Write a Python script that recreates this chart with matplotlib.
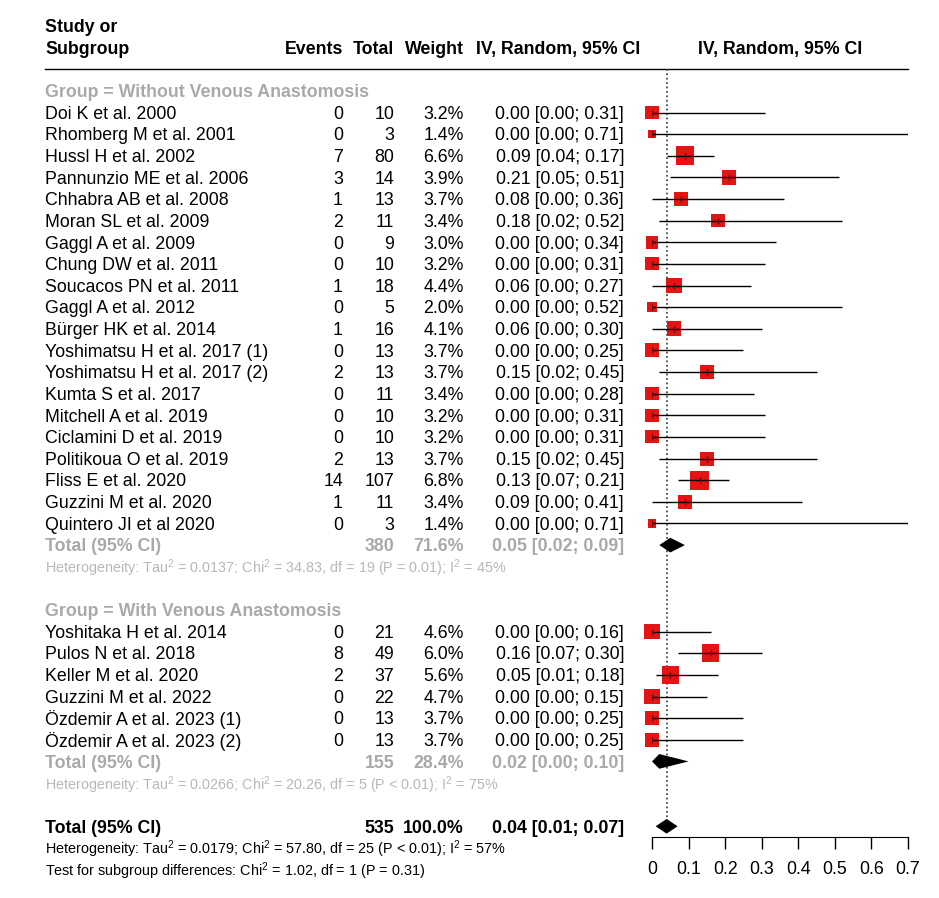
import numpy as np
import matplotlib.pyplot as plt

plt.rcParams['font.family'] = ['Liberation Sans', 'DejaVu Sans']
plt.rcParams['mathtext.fontset'] = 'custom'
plt.rcParams['mathtext.rm'] = 'Liberation Sans'
plt.rcParams['mathtext.it'] = 'Liberation Sans:italic'
plt.rcParams['mathtext.bf'] = 'Liberation Sans:bold'
FS = 12.8
FS_NOTE = 10.4  # the footnote lines are set narrower in the original

# group 1: without venous anastomosis
studies1 = ['Doi K et al. 2000', 'Rhomberg M et al. 2001', 'Hussl H et al. 2002',
            'Pannunzio ME et al. 2006', 'Chhabra AB et al. 2008', 'Moran SL et al. 2009',
            'Gaggl A et al. 2009', 'Chung DW et al. 2011', 'Soucacos PN et al. 2011',
            'Gaggl A et al. 2012', 'Bürger HK et al. 2014', 'Yoshimatsu H et al. 2017 (1)',
            'Yoshimatsu H et al. 2017 (2)', 'Kumta S et al. 2017', 'Mitchell A et al. 2019',
            'Ciclamini D et al. 2019', 'Politikoua O et al. 2019', 'Fliss E et al. 2020',
            'Guzzini M et al. 2020', 'Quintero JI et al 2020']
events1 = [0, 0, 7, 3, 1, 2, 0, 0, 1, 0, 1, 0, 2, 0, 0, 0, 2, 14, 1, 0]
totals1 = [10, 3, 80, 14, 13, 11, 9, 10, 18, 5, 16, 13, 13, 11, 10, 10, 13, 107, 11, 3]
weights1 = [3.2, 1.4, 6.6, 3.9, 3.7, 3.4, 3.0, 3.2, 4.4, 2.0, 4.1, 3.7, 3.7, 3.4, 3.2,
            3.2, 3.7, 6.8, 3.4, 1.4]
est1 = [0.00, 0.00, 0.09, 0.21, 0.08, 0.18, 0.00, 0.00, 0.06, 0.00, 0.06, 0.00, 0.15,
        0.00, 0.00, 0.00, 0.15, 0.13, 0.09, 0.00]
lo1 = [0.00, 0.00, 0.04, 0.05, 0.00, 0.02, 0.00, 0.00, 0.00, 0.00, 0.00, 0.00, 0.02,
       0.00, 0.00, 0.00, 0.02, 0.07, 0.00, 0.00]
hi1 = [0.31, 0.71, 0.17, 0.51, 0.36, 0.52, 0.34, 0.31, 0.27, 0.52, 0.30, 0.25, 0.45,
       0.28, 0.31, 0.31, 0.45, 0.21, 0.41, 0.71]

# group 2: with venous anastomosis
studies2 = ['Yoshitaka H et al. 2014', 'Pulos N et al. 2018', 'Keller M et al. 2020',
            'Guzzini M et al. 2022', 'Özdemir A et al. 2023 (1)', 'Özdemir A et al. 2023 (2)']
events2 = [0, 8, 2, 0, 0, 0]
totals2 = [21, 49, 37, 22, 13, 13]
weights2 = [4.6, 6.0, 5.6, 4.7, 3.7, 3.7]
est2 = [0.00, 0.16, 0.05, 0.00, 0.00, 0.00]
lo2 = [0.00, 0.07, 0.01, 0.00, 0.00, 0.00]
hi2 = [0.16, 0.30, 0.18, 0.15, 0.25, 0.25]

# pooled: (n, weight, est, lo, hi)
sub1 = (380, 71.6, 0.05, 0.02, 0.09)
sub2 = (155, 28.4, 0.02, 0.00, 0.10)
overall = (535, 100.0, 0.04, 0.01, 0.07)

het1 = r'Heterogeneity: Tau$^2$ = 0.0137; Chi$^2$ = 34.83, df = 19 (P = 0.01); I$^2$ = 45%'
het2 = r'Heterogeneity: Tau$^2$ = 0.0266; Chi$^2$ = 20.26, df = 5 (P < 0.01); I$^2$ = 75%'
het_all = r'Heterogeneity: Tau$^2$ = 0.0179; Chi$^2$ = 57.80, df = 25 (P < 0.01); I$^2$ = 57%'
test_sub = r'Test for subgroup differences: Chi$^2$ = 1.02, df = 1 (P = 0.31)'

ticks = [0, 0.1, 0.2, 0.3, 0.4, 0.5, 0.6, 0.7]

# row layout
rows1 = np.arange(len(studies1))
r_tot1 = len(studies1)
r_head2 = r_tot1 + 3
rows2 = r_head2 + 1 + np.arange(len(studies2))
r_tot2 = rows2[-1] + 1
r_all = r_tot2 + 3

W, H = 939, 898
ytop, ystep = 112.5, 21.63
ylim = ((H - ytop) / ystep, -ytop / ystep)
dy = 0.08  # text sits a touch lower than the marks

fig = plt.figure(figsize=(W / 100, H / 100), dpi=100)
tx = fig.add_axes([0, 0, 1, 1])
tx.set_xlim(0, W)
tx.set_ylim(*ylim)
tx.axis('off')

GREY = '#a9a9a9'
GREY2 = '#b8b8b8'
x_study, x_ev, x_tot, x_w, x_ci = 45, 343, 394, 464, 624


def fmt_ci(e, l, h):
    return f'{e:.2f} [{l:.2f}; {h:.2f}]'


def put(x, r, s, **kw):
    kw.setdefault('fontsize', FS)
    kw.setdefault('va', 'center')
    tx.text(x, r + dy, s, **kw)


# header
put(x_study, -4, 'Study or', fontweight='bold')
put(x_study, -3, 'Subgroup', fontweight='bold')
for x, s in [(x_ev, 'Events'), (x_tot, 'Total'), (x_w, 'Weight')]:
    put(x, -3, s, fontweight='bold', ha='right')
put(558, -3, 'IV, Random, 95% CI', fontweight='bold', ha='center')
put(780, -3, 'IV, Random, 95% CI', fontweight='bold', ha='center')
tx.plot([45, 908], [-1.99, -1.99], color='black', lw=1)


def study_rows(rows, studies, events, totals, weights, est, lo, hi):
    for r, s, e, n, w, m, l, h in zip(rows, studies, events, totals, weights, est, lo, hi):
        put(x_study, r, s)
        put(x_ev, r, str(e), ha='right')
        put(x_tot, r, str(n), ha='right')
        put(x_w, r, f'{w:.1f}%', ha='right')
        put(x_ci, r, fmt_ci(m, l, h), ha='right')


def total_row(r, vals, color):
    n, w, m, l, h = vals
    put(x_study, r, 'Total (95% CI)', fontweight='bold', color=color)
    put(x_tot, r, str(n), fontweight='bold', ha='right', color=color)
    put(x_w, r, f'{w:.1f}%', fontweight='bold', ha='right', color=color)
    put(x_ci, r, fmt_ci(m, l, h), fontweight='bold', ha='right', color=color)


put(x_study, -1, 'Group = Without Venous Anastomosis', fontweight='bold', color=GREY)
study_rows(rows1, studies1, events1, totals1, weights1, est1, lo1, hi1)
total_row(r_tot1, sub1, GREY)
put(x_study, r_tot1 + 1, het1, fontsize=FS_NOTE, color=GREY2)

put(x_study, r_head2, 'Group = With Venous Anastomosis', fontweight='bold', color=GREY)
study_rows(rows2, studies2, events2, totals2, weights2, est2, lo2, hi2)
total_row(r_tot2, sub2, GREY)
put(x_study, r_tot2 + 1, het2, fontsize=FS_NOTE, color=GREY2)

total_row(r_all, overall, 'black')
put(x_study, r_all + 1, het_all, fontsize=FS_NOTE)
put(x_study, r_all + 2, test_sub, fontsize=FS_NOTE)

# forest panel
ax = fig.add_axes([652 / W, 0, 256 / W, 1])
ax.patch.set_alpha(0)
ax.set_xlim(0, 0.7)
ax.set_ylim(*ylim)
for sp in ['top', 'left', 'right']:
    ax.spines[sp].set_visible(False)
ax.spines['bottom'].set_position(('data', (837 - ytop) / ystep))
ax.spines['bottom'].set_bounds(0, 0.7)
ax.set_yticks([])
ax.set_xticks(ticks)
ax.set_xticklabels(['0' if t == 0 else f'{t:.1f}' for t in ticks], fontsize=FS)
ax.tick_params(axis='x', length=8.5, width=1, pad=9)

all_rows = np.concatenate([rows1, rows2])
all_w = np.array(weights1 + weights2)
all_est = np.array(est1 + est2)
all_lo = np.array(lo1 + lo2)
all_hi = np.array(hi1 + hi2)

side_pt = 7.3 * np.sqrt(all_w) * 0.72
ax.scatter(all_est, all_rows, s=side_pt ** 2, marker='s', color='#e41414', lw=0, zorder=2,
           clip_on=False)
ax.hlines(all_rows, all_lo, np.minimum(all_hi, 0.7), color='black', lw=1, zorder=3)
ax.scatter(all_est, all_rows, s=20, marker='|', color='#700000', lw=1, zorder=4)

for r, vals in [(r_tot1, sub1), (r_tot2, sub2), (r_all, overall)]:
    _, _, m, l, h = vals
    ax.fill([l, m, h, m], [r, r - 0.34, r, r + 0.34], color='black', lw=0, zorder=3)

ax.vlines(overall[2], -1.99, r_all + 0.3, color='#333333', lw=1.2, linestyles=':', zorder=1)

fig.savefig('out.png', dpi=100)
